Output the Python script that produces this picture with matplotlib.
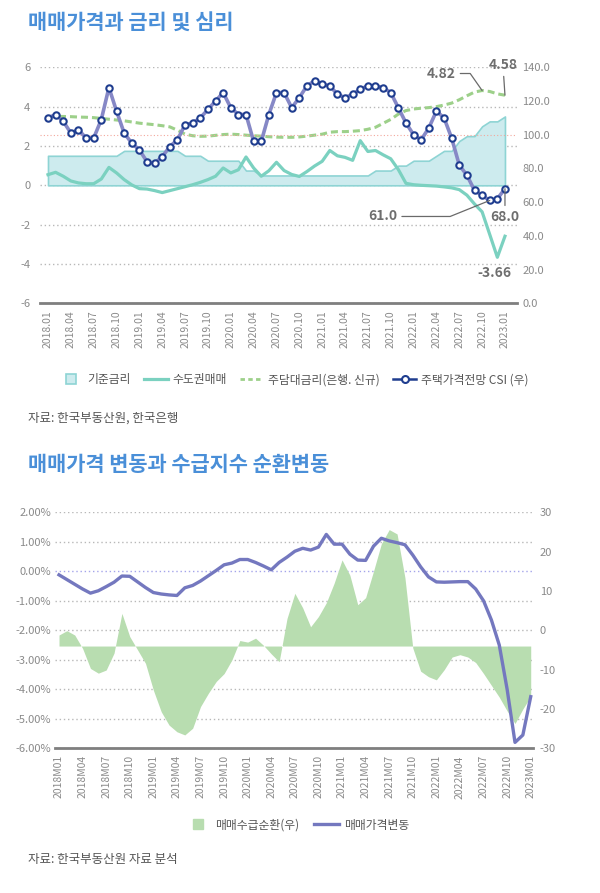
import matplotlib
matplotlib.use("Agg")
import matplotlib.pyplot as plt
from matplotlib.lines import Line2D
import numpy as np

plt.rcParams["font.family"] = ["Noto Sans CJK KR", "DejaVu Sans"]
plt.rcParams["axes.unicode_minus"] = False

# ---- chart 1: 매매가격과 금리 및 심리 (2018.01 - 2023.01, monthly)
base_rate = [1.50, 1.50, 1.50, 1.50, 1.50, 1.50, 1.50, 1.50, 1.50, 1.50,
             1.75, 1.75, 1.75, 1.75, 1.75, 1.75, 1.75, 1.75, 1.50, 1.50,
             1.50, 1.25, 1.25, 1.25, 1.25, 1.25, 0.75, 0.75, 0.50, 0.50,
             0.50, 0.50, 0.50, 0.50, 0.50, 0.50, 0.50, 0.50, 0.50, 0.50,
             0.50, 0.50, 0.50, 0.75, 0.75, 0.75, 1.00, 1.00, 1.25, 1.25,
             1.25, 1.50, 1.75, 1.75, 2.25, 2.50, 2.50, 3.00, 3.25, 3.25,
             3.50]
metro_price = [0.54, 0.66, 0.46, 0.22, 0.12, 0.08, 0.08, 0.32, 0.91, 0.63,
               0.29, 0.02, -0.17, -0.19, -0.27, -0.37, -0.27, -0.17, -0.07, 0.03,
               0.15, 0.29, 0.46, 0.88, 0.63, 0.79, 1.44, 0.88, 0.46, 0.74,
               1.17, 0.75, 0.55, 0.45, 0.70, 0.98, 1.22, 1.77, 1.50, 1.42,
               1.27, 2.27, 1.72, 1.77, 1.55, 1.35, 0.80, 0.10, 0.03, 0.00,
               -0.02, -0.04, -0.08, -0.13, -0.22, -0.50, -0.95, -1.35, -2.50, -3.66,
               -2.59]
mortgage = [3.47, 3.50, 3.50, 3.49, 3.47, 3.46, 3.44, 3.40, 3.36, 3.32,
            3.28, 3.22, 3.16, 3.12, 3.08, 3.03, 2.97, 2.80, 2.60, 2.52,
            2.49, 2.50, 2.54, 2.58, 2.60, 2.58, 2.55, 2.52, 2.50, 2.47,
            2.45, 2.44, 2.44, 2.46, 2.50, 2.55, 2.60, 2.70, 2.73, 2.73,
            2.75, 2.78, 2.85, 2.95, 3.15, 3.35, 3.62, 3.80, 3.88, 3.92,
            3.95, 4.00, 4.08, 4.18, 4.35, 4.55, 4.74, 4.82, 4.77, 4.65,
            4.58]
csi = [110, 112, 108, 101, 103, 98, 98, 109, 128, 114,
       101, 95, 91, 84, 83, 87, 93, 97, 106, 107,
       110, 115, 120, 125, 116, 112, 112, 96, 96, 112,
       125, 125, 116, 122, 129, 132, 130, 129, 124, 122,
       124, 127, 129, 129, 128, 125, 116, 107, 100, 97,
       104, 114, 110, 98, 82, 76, 67, 64, 61, 62,
       68]
csi_ref = 100

# ---- chart 2: 매매가격 변동과 수급지수 순환변동
price_change = [-0.12, -0.28, -0.44, -0.60, -0.74, -0.66, -0.52, -0.37, -0.16, -0.17,
                -0.36, -0.55, -0.72, -0.77, -0.80, -0.82, -0.56, -0.48, -0.33, -0.15,
                0.03, 0.22, 0.28, 0.40, 0.40, 0.30, 0.18, 0.05, 0.30, 0.48,
                0.68, 0.78, 0.72, 0.82, 1.25, 0.92, 0.92, 0.58, 0.38, 0.37,
                0.85, 1.12, 1.03, 0.97, 0.90, 0.55, 0.15, -0.19, -0.36, -0.37,
                -0.36, -0.35, -0.35, -0.60, -1.00, -1.65, -2.50, -4.00, -5.80, -5.55,
                -4.25]
supply_cycle = [-1.2, -0.1, -1.2, -4.6, -9.7, -10.9, -10.1, -5.8, 4.3, -1.6,
                -5.0, -8.4, -15.2, -20.7, -24.1, -25.8, -26.6, -24.9, -19.4, -16.0,
                -13.0, -11.0, -7.5, -2.6, -3.0, -2.0, -3.8, -6.0, -8.0, 3.0,
                9.4, 5.7, 0.9, 3.5, 7.0, 12.0, 17.9, 14.0, 6.5, 8.3,
                15.0, 22.0, 25.6, 24.5, 13.4, -4.5, -10.4, -11.8, -12.6, -10.0,
                -6.8, -6.2, -6.8, -8.2, -11.0, -14.0, -17.0, -20.5, -23.7, -20.0,
                -16.8]
supply_base = -4

tick_pos = list(range(0, 61, 3))
labels1 = [f"{2018 + k // 12}.{k % 12 + 1:02d}" for k in tick_pos]
labels2 = [f"{2018 + k // 12}M{k % 12 + 1:02d}" for k in tick_pos]

GRAY = "#8a8a8a"
TXT = "#555555"
BLUE_T = "#4a8fd8"
TEAL = "#7bd1c0"
FILL = "#cdebee"
FILL_EDGE = "#8ed4d4"
GREEN = "#9dd08a"
LAV = "#8688c6"
NAVY = "#1f3d8f"
PURPLE = "#7478bf"
AREA = "#b8ddb0"

x = np.arange(len(csi))

fig = plt.figure(figsize=(6, 8.93), dpi=100)
H = 893.0

# ================= chart 1 =================
fig.text(28 / 600, 1 - 22 / H, "매매가격과 금리 및 심리", fontsize=15, fontweight="bold",
         color=BLUE_T, va="center", ha="left")

ax1 = fig.add_axes([40 / 600, 1 - 303.3 / H, 477 / 600, 236 / H])
ax1.set_xlim(-1.05, 61.58)
ax1.set_ylim(-6, 6)
ax1.set_axisbelow(True)
ax1.set_yticks(range(-6, 7, 2))
ax1.yaxis.grid(True, color="#b8b8b8", ls=(0, (1, 2)), lw=1)
ax1.fill_between(x, 0, base_rate, facecolor=FILL, edgecolor=FILL_EDGE, lw=1.2, zorder=1)
ax1.plot(x, metro_price, color=TEAL, lw=2.3, zorder=2, solid_joinstyle="round")
ax1.plot(x, mortgage, color=GREEN, lw=2.2, ls=(0, (2.3, 1.3)), zorder=3)

ax1r = ax1.twinx()
ax1r.set_ylim(0, 140)
ax1r.set_yticks(range(0, 141, 20))
ax1r.set_yticklabels([f"{v:.1f}" for v in range(0, 141, 20)])
ax1r.axhline(csi_ref, color="#f3a79c", ls=(0, (1, 2)), lw=0.8, zorder=0)
ax1r.plot(x, csi, color=LAV, lw=2.6, marker="o", ms=4.6, mfc="white", mec=NAVY, mew=1.5,
          zorder=3)

for a in (ax1, ax1r):
    for s in ("top", "left", "right"):
        a.spines[s].set_visible(False)
ax1r.spines["bottom"].set_visible(False)
ax1.spines["bottom"].set_color("#7f7f7f")
ax1.spines["bottom"].set_linewidth(2)

ax1.set_xticks(tick_pos)
ax1.set_xticklabels(labels1, rotation=90, fontsize=7.5, color=GRAY)
ax1.tick_params(axis="x", length=0, pad=5)
ax1.tick_params(axis="y", length=0, pad=7, labelsize=8, labelcolor=GRAY)
ax1r.tick_params(axis="y", length=0, pad=4, labelsize=8, labelcolor=GRAY)

ann = dict(fontsize=10, fontweight="bold", color="#6e6e6e", textcoords="offset pixels")
lead = dict(arrowstyle="-", color="#6a6a6a", lw=0.9, shrinkA=1, shrinkB=0)
ax1.annotate(f"{mortgage[57]:.2f}", xy=(57, mortgage[57]), xytext=(-26, 17),
             ha="right", va="center",
             arrowprops=dict(lead, connectionstyle="angle,angleA=0,angleB=125,rad=0"), **ann)
ax1.annotate(f"{mortgage[60]:.2f}", xy=(60, mortgage[60]), xytext=(-2, 30),
             ha="center", va="center", arrowprops=lead, **ann)
ax1r.annotate(f"{csi[58]:.1f}", xy=(58, csi[58]), xytext=(-92, -16),
              ha="right", va="center",
              arrowprops=dict(lead, connectionstyle="angle,angleA=0,angleB=22,rad=0"), **ann)
ax1r.annotate(f"{csi[60]:.1f}", xy=(60, csi[60]), xytext=(0, -28),
              ha="center", va="center", arrowprops=lead, **ann)
ax1.annotate(f"{metro_price[59]:.2f}", xy=(59, metro_price[59]), xytext=(-3, -16),
             ha="center", va="center", **ann)

h1 = [Line2D([], [], ls="", marker="s", ms=7, mfc=FILL, mec=FILL_EDGE, mew=1.2),
      Line2D([], [], color=TEAL, lw=2.3),
      Line2D([], [], color=GREEN, lw=2, ls=(0, (1.6, 1.2))),
      Line2D([], [], color=NAVY, lw=1.8, marker="o", ms=5, mfc="white", mec=NAVY, mew=1.5)]
fig.legend(h1, ["기준금리", "수도권매매", "주담대금리(은행. 신규)", "주택가격전망 CSI (우)"],
           loc="center", bbox_to_anchor=(0.49, 1 - 380 / H), ncol=4, frameon=False,
           fontsize=8.5, handlelength=2.0, handletextpad=0.4, columnspacing=1.1,
           labelcolor=TXT)
fig.text(28 / 600, 1 - 418 / H, "자료: 한국부동산원, 한국은행", fontsize=9, color=TXT,
         va="center", ha="left")

# ================= chart 2 =================
fig.text(28 / 600, 1 - 465 / H, "매매가격 변동과 수급지수 순환변동", fontsize=15,
         fontweight="bold", color=BLUE_T, va="center", ha="left")

ax2 = fig.add_axes([55 / 600, 1 - 748.3 / H, 478 / 600, 236 / H])
ax2.set_xlim(-0.51, 60.29)
ax2.set_ylim(-6, 2)
yt2 = list(range(-6, 3))
ax2.set_yticks(yt2)
ax2.set_yticklabels([f"{v:.2f}%" for v in yt2])
ax2.yaxis.grid(True, color="#b8b8b8", ls=(0, (1, 2)), lw=1)
for t, v in zip(ax2.yaxis.get_major_ticks(), yt2):
    if v == 0:
        t.gridline.set_color("#a4a4ea")

ax2r = ax2.twinx()
ax2r.set_ylim(-30, 30)
ax2r.set_yticks(range(-30, 31, 10))
ax2r.fill_between(x, supply_cycle, supply_base, color=AREA, lw=0)

ax2p = ax2.twinx()
ax2p.set_ylim(-6, 2)
ax2p.axis("off")
ax2p.plot(x, price_change, color=PURPLE, lw=2.4, solid_joinstyle="round")

for a in (ax2, ax2r):
    for s in ("top", "left", "right"):
        a.spines[s].set_visible(False)
ax2r.spines["bottom"].set_visible(False)
ax2.spines["bottom"].set_color("#7f7f7f")
ax2.spines["bottom"].set_linewidth(2)

ax2.set_xticks(tick_pos)
ax2.set_xticklabels(labels2, rotation=90, fontsize=7.5, color=GRAY)
ax2.tick_params(axis="x", length=0, pad=5)
ax2.tick_params(axis="y", length=0, pad=3, labelsize=8, labelcolor=GRAY)
ax2r.tick_params(axis="y", length=0, pad=5, labelsize=8, labelcolor=GRAY)

h2 = [Line2D([], [], ls="", marker="s", ms=7, mfc=AREA, mec=AREA),
      Line2D([], [], color=PURPLE, lw=2.4)]
fig.legend(h2, ["매매수급순환(우)", "매매가격변동"], loc="center",
           bbox_to_anchor=(0.495, 1 - 825 / H), ncol=2, frameon=False, fontsize=8.5,
           handlelength=2.2, handletextpad=0.4, columnspacing=1.2, labelcolor=TXT)
fig.text(28 / 600, 1 - 860 / H, "자료: 한국부동산원 자료 분석", fontsize=9, color=TXT,
         va="center", ha="left")

fig.savefig("out.png", dpi=100, facecolor="white")
